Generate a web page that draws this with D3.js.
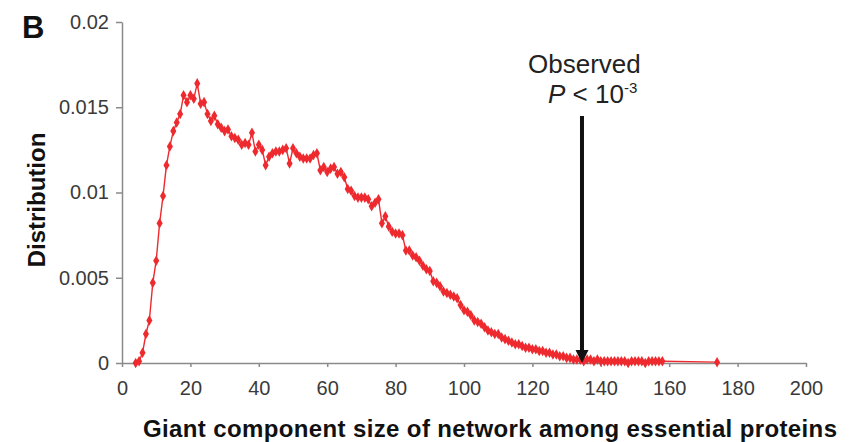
<!DOCTYPE html>
<html>
<head>
<meta charset="utf-8">
<style>
  body { margin: 0; background: #fff; }
  svg text { font-family: "Liberation Sans", Arial, Helvetica, sans-serif; }
  .axis path, .axis line { stroke: #8a8a8a; stroke-width: 1.5px; }
  .axis text { fill: #3a3a3a; font-size: 20px; }
</style>
</head>
<body>
<svg width="850" height="442"></svg>
<script src="https://d3js.org/d3.v7.min.js"></script>
<script>
// giant component size (x) and its distribution (y)
var sizes = [
  4, 5, 6, 7, 8, 9, 10, 11, 12, 13, 14, 15, 16, 17, 18, 19, 20, 21, 22, 23,
  24, 25, 26, 27, 28, 29, 30, 31, 32, 33, 34, 35, 36, 37, 38, 39, 40, 41, 42, 43,
  44, 45, 46, 47, 48, 49, 50, 51, 52, 53, 54, 55, 56, 57, 58, 59, 60, 61, 62, 63,
  64, 65, 66, 67, 68, 69, 70, 71, 72, 73, 74, 75, 76, 77, 78, 79, 80, 81, 82, 83,
  84, 85, 86, 87, 88, 89, 90, 91, 92, 93, 94, 95, 96, 97, 98, 99, 100, 101, 102, 103,
  104, 105, 106, 107, 108, 109, 110, 111, 112, 113, 114, 115, 116, 117, 118, 119, 120, 121, 122, 123,
  124, 125, 126, 127, 128, 129, 130, 131, 132, 133, 134, 135, 136, 137, 138, 139, 140, 141, 142, 143,
  144, 145, 146, 147, 148, 149, 150, 151, 152, 153, 154, 155, 156, 157, 158, 174
];
var distribution = [
  0.0000, 0.0001, 0.0006, 0.0017, 0.0025, 0.0047, 0.0060, 0.0082, 0.0098, 0.0116,
  0.0127, 0.0136, 0.0141, 0.0146, 0.0157, 0.0153, 0.0157, 0.0155, 0.0164, 0.0152,
  0.0153, 0.0146, 0.0142, 0.0145, 0.0140, 0.0138, 0.0136, 0.0137, 0.0133, 0.0132,
  0.0131, 0.0128, 0.0129, 0.0128, 0.0135, 0.0124, 0.0128, 0.0125, 0.0116, 0.0121,
  0.0123, 0.0124, 0.0124, 0.0125, 0.0126, 0.0117, 0.0126, 0.0123, 0.0121, 0.0120,
  0.0120, 0.0120, 0.0122, 0.0123, 0.0113, 0.0115, 0.0112, 0.0114, 0.0115, 0.0111,
  0.0112, 0.0109, 0.0102, 0.0101, 0.0098, 0.0097, 0.0097, 0.0097, 0.0096, 0.0092,
  0.0094, 0.0096, 0.0082, 0.0086, 0.0080, 0.0077, 0.0076, 0.0076, 0.0075, 0.0066,
  0.0066, 0.0063, 0.0062, 0.0060, 0.0057, 0.0055, 0.0054, 0.0048, 0.0047, 0.0045,
  0.0042, 0.0041, 0.0040, 0.0039, 0.0038, 0.0034, 0.0031, 0.0030, 0.0028, 0.0025,
  0.0024, 0.0023, 0.0021, 0.0019, 0.0018, 0.0017, 0.0017, 0.0015, 0.0014, 0.0013,
  0.0012, 0.0011, 0.0011, 0.0010, 0.0009, 0.0009, 0.0008, 0.0008, 0.0007, 0.0007,
  0.0006, 0.0006, 0.0005, 0.0005, 0.0004, 0.0004, 0.0003, 0.0003, 0.0002, 0.0002,
  0.0002, 0.0001, 0.0002, 0.0002, 0.0001, 0.0002, 0.0001, 0.0001, 0.0001, 0.0001,
  0.0001, 0.0001, 0.0001, 0.0001, 0.0000, 0.0001, 0.0001, 0.0001, 0.0001, 0.0000,
  0.0001, 0.0001, 0.0001, 0.0001, 0.0001, 0.00005
];
var xTicks = [0, 20, 40, 60, 80, 100, 120, 140, 160, 180, 200];
var yTicks = [0, 0.005, 0.01, 0.015, 0.02];
var yTickLabels = ["0", "0.005", "0.01", "0.015", "0.02"];
var observedSize = 134.5;

var svg = d3.select("svg");

var x = d3.scaleLinear().domain([0, 200]).range([122, 806]);
var y = d3.scaleLinear().domain([0, 0.02]).range([363, 22]);

var points = sizes.map(function(s, i) { return {size: s, value: distribution[i]}; });

// axes
svg.append("g")
    .attr("class", "axis")
    .attr("transform", "translate(0," + y(0) + ")")
    .call(d3.axisBottom(x).tickValues(xTicks).tickSize(4).tickSizeOuter(0).tickPadding(14));

svg.append("g")
    .attr("class", "axis")
    .attr("transform", "translate(" + x(0) + ",0)")
    .call(d3.axisLeft(y).tickValues(yTicks).tickSize(6).tickSizeOuter(0).tickPadding(7)
      .tickFormat(function(d, i) { return yTickLabels[i]; }));

// the series
var line = d3.line()
    .x(function(d) { return x(d.size); })
    .y(function(d) { return y(d.value); });

svg.append("path")
    .datum(points)
    .attr("fill", "none")
    .attr("stroke", "#ee2a2e")
    .attr("stroke-width", 1.4)
    .attr("d", line);

svg.append("g")
  .selectAll("path")
  .data(points)
  .enter().append("path")
    .attr("transform", function(d) { return "translate(" + x(d.size) + "," + y(d.value) + ")"; })
    .attr("d", d3.symbol().type(d3.symbolDiamond).size(32))
    .attr("fill", "#ee2a2e");

// observed arrow
var ax = x(observedSize);
svg.append("line")
    .attr("x1", ax).attr("x2", ax)
    .attr("y1", 116).attr("y2", y(0) - 10)
    .attr("stroke", "#111")
    .attr("stroke-width", 4);
svg.append("path")
    .attr("d", "M" + (ax - 6.5) + "," + (y(0) - 13) + "L" + (ax + 6.5) + "," + (y(0) - 13) + "L" + ax + "," + y(0) + "Z")
    .attr("fill", "#111");

svg.append("text")
    .attr("x", 528).attr("y", 73)
    .attr("font-size", 26)
    .attr("fill", "#222")
    .text("Observed");

var ptext = svg.append("text")
    .attr("x", 548).attr("y", 103)
    .attr("font-size", 26)
    .attr("fill", "#222");
ptext.append("tspan").attr("font-style", "italic").text("P");
ptext.append("tspan").text(" < 10");
ptext.append("tspan").attr("font-size", 15).attr("dy", -10).text("-3");

// labels
svg.append("text")
    .attr("x", 22).attr("y", 38)
    .attr("font-size", 31)
    .attr("font-weight", "bold")
    .attr("fill", "#111")
    .text("B");

svg.append("text")
    .attr("transform", "translate(45,200) rotate(-90)")
    .attr("text-anchor", "middle")
    .attr("font-size", 24)
    .attr("font-weight", "bold")
    .attr("fill", "#111")
    .text("Distribution");

svg.append("text")
    .attr("x", 143).attr("y", 437)
    .attr("font-size", 24)
    .attr("font-weight", "bold")
    .attr("fill", "#111")
    .attr("textLength", 694)
    .attr("lengthAdjust", "spacing")
    .text("Giant component size of network among essential proteins");
</script>
</body>
</html>
